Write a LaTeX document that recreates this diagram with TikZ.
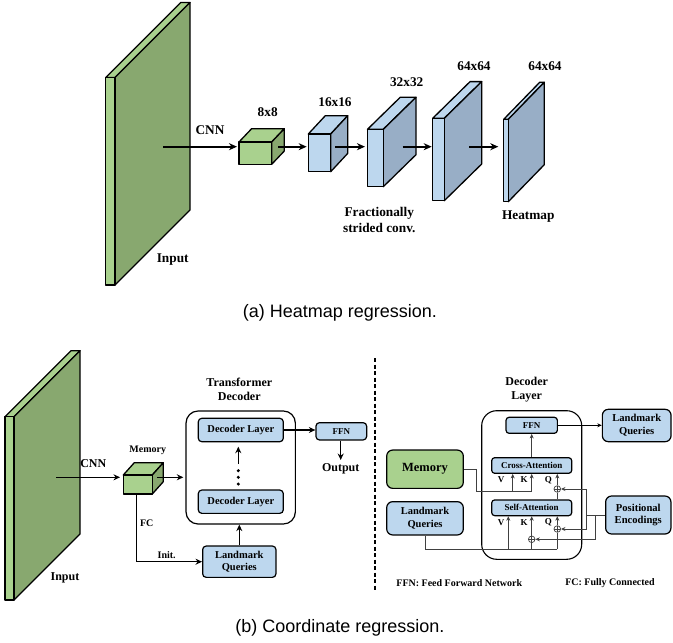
\documentclass[tikz,border=0pt]{standalone}
\usepackage{fontspec}
\setmainfont{Liberation Serif}
\newfontfamily\capfont{Liberation Sans}
\usetikzlibrary{arrows.meta}
\definecolor{lgreen}{HTML}{A9D18E}
\definecolor{dgreen}{HTML}{88A86F}
\definecolor{lblue}{HTML}{BDD7EE}
\definecolor{dblue}{HTML}{98AEC6}
\definecolor{wire}{HTML}{404040}
\newcommand\drawcuboid[8]{%
  \filldraw[fill=#7,draw=black,line width=1.3pt,line join=round] (#1,#2) -- ++(#5,#6) -- ++({#3-#1},0) -- (#3,#2) -- cycle;
  \filldraw[fill=#8,draw=black,line width=1.3pt,line join=round] (#3,#2) -- ++(#5,#6) -- ++(0,{#4-#2}) -- (#3,#4) -- cycle;
  \filldraw[fill=#7,draw=black,line width=1.3pt,line join=round] (#1,#2) rectangle (#3,#4);
}
\begin{document}
\begin{tikzpicture}[x=1pt,y=-1pt,
  bigarr/.style={line width=1.8pt,-{Stealth[length=8pt,width=7pt]}},
  midarr/.style={line width=1.5pt,-{Stealth[length=6.5pt,width=6pt]}},
  thinarr/.style={draw=wire,line width=0.9pt,-{Stealth[length=4.5pt,width=4pt]}},
  blkarr/.style={draw=black,line width=0.9pt,-{Stealth[length=4.5pt,width=4pt]}},
  wireline/.style={draw=wire,line width=0.9pt},
  tlab/.style={inner sep=0,font=\fontsize{13.3}{16}\selectfont\bfseries,align=center},
  blab/.style={inner sep=0,font=\fontsize{12}{14}\selectfont\bfseries,align=center},
  slab/.style={inner sep=0,font=\fontsize{10}{12}\selectfont\bfseries,align=center},
  vlab/.style={inner sep=0,font=\fontsize{9}{11}\selectfont\bfseries},
  bbox/.style={draw=black,line width=1.2pt,fill=lblue,rounded corners=3.5pt,inner sep=0,align=center},
  gbox/.style={draw=black,line width=1.2pt,fill=lgreen,rounded corners=5pt,inner sep=0,align=center},
  oplus/.style={circle,draw=wire,line width=0.7pt,fill=white,inner sep=0,minimum size=6.6pt,
    path picture={\draw[wire,line width=0.6pt] (path picture bounding box.north) -- (path picture bounding box.south)
      (path picture bounding box.west) -- (path picture bounding box.east);}},
  caption/.style={inner sep=0,font=\capfont\fontsize{18}{20}\selectfont}
]
\useasboundingbox (0,0) rectangle (673,643);

%% ---------------- (a) Heatmap regression ----------------
\drawcuboid{105.7}{77.5}{115}{285}{75}{-75}{lgreen}{dgreen}
\drawcuboid{239}{142}{271.7}{164.3}{12.6}{-13.3}{lgreen}{dgreen}
\drawcuboid{308.3}{134}{330.7}{171.7}{17}{-18.3}{lblue}{dblue}
\drawcuboid{367.5}{129.3}{383.3}{186.7}{32.7}{-32}{lblue}{dblue}
\drawcuboid{432.7}{118.3}{444.3}{200.7}{37.4}{-36.7}{lblue}{dblue}
\drawcuboid{503.7}{119.3}{508.3}{201.7}{36}{-37}{lblue}{dblue}

\coordinate (a0) at (163,146.7);
\coordinate (a1) at (237,146.7);
\coordinate (a2) at (278,146.7);
\coordinate (a3) at (306.7,146.7);
\coordinate (a4) at (335,146.7);
\coordinate (a5) at (365,146.7);
\coordinate (a6) at (402.7,146.7);
\coordinate (a7) at (431.7,146.7);
\coordinate (a8) at (469.3,146.7);
\coordinate (a9) at (498.3,146.7);
\draw[bigarr] (a0) -- (a1);
\draw[bigarr] (a2) -- (a3);
\draw[bigarr] (a4) -- (a5);
\draw[bigarr] (a6) -- (a7);
\draw[bigarr] (a8) -- (a9);

\node[tlab] (tcnn) at (210,130) {CNN};
\node[tlab] (t8) at (267.7,111.7) {8x8};
\node[tlab] (t16) at (335,101.7) {16x16};
\node[tlab] (t32) at (406.7,81.7) {32x32};
\node[tlab] (t64a) at (474,66) {64x64};
\node[tlab] (t64b) at (545,66) {64x64};
\node[tlab] (tfrac) at (379.3,220.3) {Fractionally\\strided conv.};
\node[tlab] (theat) at (528.3,216.7) {Heatmap};
\node[tlab] (tinput) at (172.7,260) {Input};
\node[caption] (capa) at (340,312.7) {(a) Heatmap regression.};

%% ---------------- (b) Coordinate regression ----------------
\drawcuboid{5}{416.7}{14}{600}{66}{-66}{lgreen}{dgreen}
\drawcuboid{123.3}{475}{152.3}{494}{11}{-12.3}{lgreen}{dgreen}

\coordinate (b0) at (56,477.3);
\coordinate (b1) at (120,477.3);
\coordinate (b2) at (157.3,477.3);
\coordinate (b3) at (183.3,477.3);
\draw[midarr] (b0) -- (b1);
\draw[midarr] (b2) -- (b3);
\node[blab] (bcnn) at (93.3,463.3) {CNN};
\node[slab] (bmem) at (147.7,450.7) {Memory};
\node[blab] (binput) at (65,577.7) {Input};

\node[draw=black,line width=1.2pt,rounded corners=12pt,minimum width=109.3pt,minimum height=113pt,inner sep=0] (tdbox) at (240.7,467.5) {};
\node[blab] (tdtitle) at (239.3,389.7) {Transformer\\Decoder};
\node[bbox,minimum width=85pt,minimum height=23.4pt,font=\fontsize{10.5}{12}\selectfont\bfseries] (dl1) at (240.8,430) {Decoder Layer};
\node[bbox,minimum width=85pt,minimum height=23.3pt,font=\fontsize{10.5}{12}\selectfont\bfseries] (dl2) at (240.8,501.7) {Decoder Layer};
\node[bbox,minimum width=73.3pt,minimum height=31.3pt,font=\fontsize{10.5}{12.7}\selectfont\bfseries] (lq1) at (239.3,561.7) {Landmark\\Queries};
\node[bbox,minimum width=50.7pt,minimum height=17.3pt,font=\fontsize{9}{11}\selectfont\bfseries] (ffn1) at (341.3,431.3) {FFN};
\node[blab] (outp) at (340.7,468.3) {Output};

\coordinate (d0) at (238.3,464);
\coordinate (d1) at (238.3,446.7);
\draw[midarr] (d0) -- (d1);
\fill (238.3,470.7) circle (1.7pt) (238.3,477.3) circle (1.7pt) (238.3,484) circle (1.7pt);
\draw[midarr] (lq1.north) -- (lq1.north |- tdbox.south);
\coordinate (fc0) at (136.7,494);
\draw[midarr] (fc0) |- (lq1.west);
\node[slab] (tfc) at (146.7,523.3) {FC};
\node[slab] (tinit) at (166.7,555) {Init.};
\draw[midarr] (dl1.east) -- (ffn1.west |- dl1.east);
\coordinate (o1) at (340.7,460);
\draw[midarr] (ffn1.south -| o1) -- (o1);

\coordinate (dash0) at (375,358);
\coordinate (dash1) at (375,590);
\draw[line width=1.6pt,dash pattern=on 4pt off 2.5pt] (dash0) -- (dash1);

%% decoder layer detail
\node[draw=black,line width=1.1pt,rounded corners=15pt,minimum width=100pt,minimum height=148.6pt,inner sep=0] (dlbox) at (531.7,485) {};
\node[blab] (dltitle) at (526.7,389.7) {Decoder\\Layer};
\node[bbox,rounded corners=3pt,minimum width=51.3pt,minimum height=16pt,font=\fontsize{9}{11}\selectfont\bfseries] (ffn2) at (531.7,425.3) {FFN};
\node[bbox,rounded corners=6pt,minimum width=68.7pt,minimum height=32.4pt,font=\fontsize{10.6}{12.7}\selectfont\bfseries] (lq2) at (636.7,425.5) {Landmark\\Queries};
\node[bbox,rounded corners=3pt,minimum width=80pt,minimum height=15.6pt,font=\fontsize{9}{11}\selectfont\bfseries] (cross) at (531.7,465.5) {Cross-Attention};
\node[bbox,rounded corners=3pt,minimum width=80pt,minimum height=15.7pt,font=\fontsize{9}{11}\selectfont\bfseries] (self) at (531.7,507.8) {Self-Attention};
\node[gbox,rounded corners=6pt,minimum width=76.6pt,minimum height=38.3pt,font=\fontsize{12.5}{14}\selectfont\bfseries] (mem2) at (425,469.2) {Memory};
\node[bbox,rounded corners=6pt,minimum width=76.6pt,minimum height=33.3pt,font=\fontsize{10.5}{12.7}\selectfont\bfseries] (lq3) at (425,518.3) {Landmark\\Queries};
\node[bbox,rounded corners=6pt,minimum width=65.3pt,minimum height=38pt,font=\fontsize{10.6}{12.7}\selectfont\bfseries] (pe) at (638.3,515) {Positional\\Encodings};

\node[vlab] (cv) at (501,480) {V};
\node[vlab] (ck) at (524,480) {K};
\node[vlab] (cq) at (548.3,480) {Q};
\node[vlab] (sv) at (501,522.7) {V};
\node[vlab] (sk) at (524,522.7) {K};
\node[vlab] (sq) at (548.3,522.7) {Q};

\node[oplus] (oc) at (557.3,489) {};
\node[oplus] (os) at (557.3,529) {};
\node[oplus] (ok) at (531.7,539.3) {};

\draw[blkarr] (ffn2.east) -- (lq2.west |- ffn2.east);
\draw[thinarr] (cross.north) -- (ffn2.south);

% memory to cross-attention V,K
\coordinate (m1) at (476.7,491.7);
\coordinate (mv) at (512.7,491.7);
\coordinate (mk) at (531.7,491.7);
\draw[wireline] (mem2.east) -| (m1) -- (mk);
\draw[thinarr] (mv) -- (mv |- cross.south);
\draw[thinarr] (mk) -- (mk |- cross.south);
% self-attention output to cross-attention Q
\draw[wireline] (oc |- self.north) -- (oc.south);
\draw[thinarr] (oc.north) -- (oc |- cross.south);

% positional encodings
\coordinate (pa) at (586.7,515);
\coordinate (pt1) at (586.7,489);
\coordinate (pt2) at (586.7,529);
\coordinate (pb1) at (595.7,515);
\coordinate (pb2) at (595.7,539.3);
\draw[wireline] (pe.west) -- (pa);
\draw[wireline] (pt1) -- (pt2);
\draw[thinarr] (pt1) -- (oc.east);
\draw[thinarr] (pt2) -- (os.east);
\draw[wireline] (pb1) -- (pb2);
\draw[thinarr] (pb2) -- (ok.east);

% landmark queries to self-attention
\coordinate (lb) at (557.3,549.3);
\coordinate (lv) at (508.3,549.3);
\coordinate (lk) at (531.7,549.3);
\draw[wireline] (lq3.south) |- (lb);
\draw[thinarr] (lv) -- (lv |- self.south);
\draw[wireline] (lk) -- (ok.south);
\draw[thinarr] (ok.north) -- (ok |- self.south);
\draw[wireline] (lb) -- (os.south);
\draw[thinarr] (os.north) -- (os |- self.south);

\node[slab] (fn1) at (459.3,583.3) {FFN: Feed Forward Network};
\node[slab] (fn2) at (610,583.3) {FC: Fully Connected};
\node[caption] (capb) at (340,628.3) {(b) Coordinate regression.};
\end{tikzpicture}
\end{document}
